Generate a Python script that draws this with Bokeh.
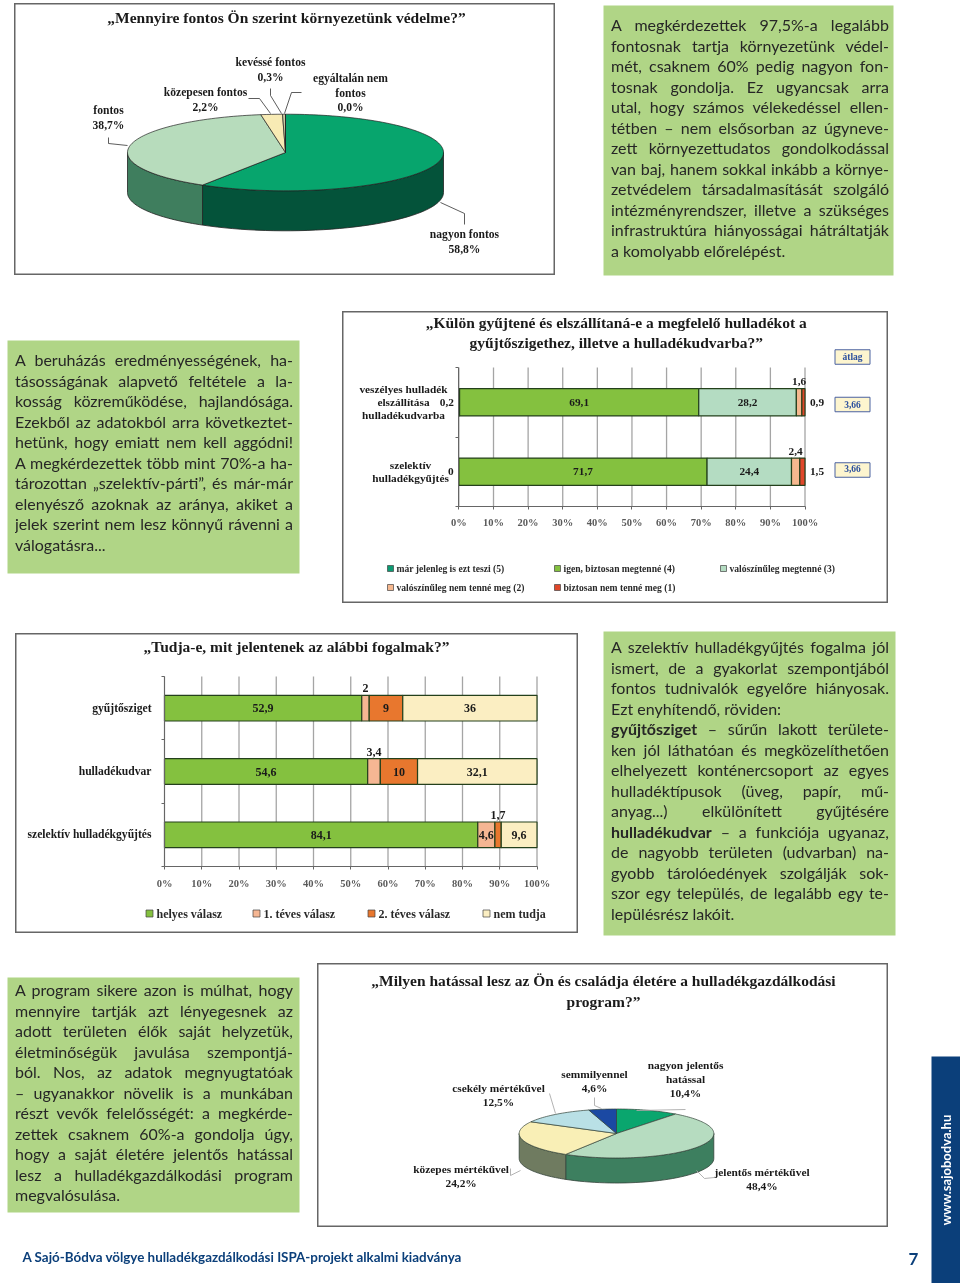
import math
from bokeh.plotting import figure
from bokeh.layouts import column
from bokeh.models import Range1d, Div, FixedTicker, ColumnDataSource
from bokeh.core.properties import value
from bokeh.embed import file_html
from bokeh.resources import INLINE

# ---------- DATA ----------
pie1_title = "„Mennyire fontos Ön szerint környezetünk védelme?”"
pie1_labels = ["nagyon fontos", "fontos", "közepesen fontos", "kevéssé fontos", "egyáltalán nem\nfontos"]
pie1_values = [58.8, 38.7, 2.2, 0.3, 0.0]
pie1_top = ["#07a56d", "#b7dcbc", "#f8ebb4", "#c9c9a0", "#888888"]
pie1_side = ["#04533a", "#3f7e5e", "#8a8050", "#666650", "#444444"]

bar1_title = ["„Külön gyűjtené és elszállítaná-e a megfelelő hulladékot a", "gyűjtőszigethez, illetve a hulladékudvarba?”"]
bar1_cats = ["veszélyes hulladék\nelszállítása\nhulladékudvarba", "szelektív\nhulladékgyűjtés"]
bar1_series = ["már jelenleg is ezt teszi (5)", "igen, biztosan megtenné (4)", "valószínűleg megtenné (3)",
               "valószínűleg nem tenné meg (2)", "biztosan nem tenné meg (1)"]
bar1_s5 = [0.2, 0]
bar1_s4 = [69.1, 71.7]
bar1_s3 = [28.2, 24.4]
bar1_s2 = [1.6, 2.4]
bar1_s1 = [0.9, 1.5]
bar1_colors = ["#0c9a72", "#84c13f", "#b4dcc2", "#f6b88f", "#e0472a"]
bar1_avg_head = "átlag"
bar1_avg = [3.66, 3.66]

bar2_title = "„Tudja-e, mit jelentenek az alábbi fogalmak?”"
bar2_cats = ["gyűjtősziget", "hulladékudvar", "szelektív hulladékgyűjtés"]
bar2_series = ["helyes válasz", "1. téves válasz", "2. téves válasz", "nem tudja"]
bar2_s1 = [52.9, 54.6, 84.1]
bar2_s2 = [2, 3.4, 4.6]
bar2_s3 = [9, 10, 1.7]
bar2_s4 = [36, 32.1, 9.6]
bar2_colors = ["#84c13f", "#f5b693", "#e8772e", "#fbeec2"]

pie2_title = ["„Milyen hatással lesz az Ön és családja életére a hulladékgazdálkodási", "program?”"]
pie2_labels = ["nagyon jelentős\nhatással", "jelentős mértékűvel", "közepes mértékűvel", "csekély mértékűvel", "semmilyennel"]
pie2_values = [10.4, 48.4, 24.2, 12.5, 4.6]
pie2_top = ["#0aa66e", "#b6dcc0", "#f9efb6", "#b9e0e6", "#1b49a3"]
pie2_side = ["#06683f", "#3d7f5f", "#6f7b60", "#6f8f96", "#10306c"]

panel1 = ["A megkérdezettek 97,5%-a legalább", "fontosnak tartja környezetünk védel-", "mét, csaknem 60% pedig nagyon fon-",
          "tosnak gondolja. Ez ugyancsak arra", "utal, hogy számos vélekedéssel ellen-", "tétben – nem elsősorban az úgyneve-",
          "zett környezettudatos gondolkodással", "van baj, hanem sokkal inkább a környe-", "zetvédelem társadalmasítását szolgáló",
          "intézményrendszer, illetve a szükséges", "infrastruktúra hiányosságai hátráltatják", "a komolyabb előrelépést."]
panel2 = ["A beruházás eredményességének, ha-", "tásosságának alapvető feltétele a la-", "kosság közreműködése, hajlandósága.",
          "Ezekből az adatokból arra következtet-", "hetünk, hogy emiatt nem kell aggódni!", "A megkérdezettek több mint 70%-a ha-",
          "tározottan „szelektív-párti”, és már-már", "elenyésző azoknak az aránya, akiket a", "jelek szerint nem lesz könnyű rávenni a",
          "válogatásra..."]
panel3 = ["A szelektív hulladékgyűjtés fogalma jól", "ismert, de a gyakorlat szempontjából", "fontos tudnivalók egyelőre hiányosak.",
          "Ezt enyhítendő, röviden:", "<b>gyűjtősziget</b> – sűrűn lakott területe-", "ken jól láthatóan és megközelíthetően",
          "elhelyezett konténercsoport az egyes", "hulladéktípusok (üveg, papír, mű-", "anyag...) elkülönített gyűjtésére",
          "<b>hulladékudvar</b> – a funkciója ugyanaz,", "de nagyobb területen (udvarban) na-", "gyobb tárolóedények szolgálják sok-",
          "szor egy település, de legalább egy te-", "lepülésrész lakóit."]
panel4 = ["A program sikere azon is múlhat, hogy", "mennyire tartják azt lényegesnek az", "adott területen élők saját helyzetük,",
          "életminőségük javulása szempontjá-", "ból. Nos, az adatok megnyugtatóak", "– ugyanakkor növelik is a munkában",
          "részt vevők felelősségét: a megkérde-", "zettek csaknem 60%-a gondolja úgy,", "hogy a saját életére jelentős hatással",
          "lesz a hulladékgazdálkodási program", "megvalósulása."]
left_lines = {"a komolyabb előrelépést.", "válogatásra...", "Ezt enyhítendő, röviden:", "lepülésrész lakóit.", "megvalósulása."}

footer = "A Sajó-Bódva völgye hulladékgazdálkodási ISPA-projekt alkalmi kiadványa"
page_no = "7"
website = "www.sajobodva.hu"

# ---------- STYLE ----------
SERIF = "Liberation Serif"
PANEL = "#b0d586"
NAVY = "#0b3f7a"
TITLE_SIZE = "15.5px"
PCT_TICKS = list(range(0, 101, 10))


def num(v):
    return f"{v:g}".replace(".", ",")


def fixed(x, y):
    return {"position": "fixed", "left": f"{x}px", "top": f"{y}px", "margin": "0"}


def box_fig(x0, y0, x1, y1, xr, yr, outline="#666666"):
    p = figure(width=x1 - x0, height=y1 - y0, x_range=xr, y_range=yr, toolbar_location=None,
               output_backend="svg", min_border=0, margin=0, styles=fixed(x0, y0),
               background_fill_color="white", border_fill_color="white",
               outline_line_color=outline, outline_line_width=2)
    p.grid.visible = False
    return p


def serif_text(p, xs, ys, texts, size="10.5px", color="#1a1a1a", align="center"):
    p.text(x=xs, y=ys, text=texts, text_font=value(SERIF), text_font_style="bold", text_font_size=size,
           text_color=color, text_align=align, text_baseline="middle")


def draw_pie(p, values, tops, sides, cx, cy, rx, ry, depth, edge):
    total = sum(values)
    a0 = 0.0
    for v, side in zip(values, sides):
        a1 = a0 + 2 * math.pi * v / total
        lo, hi = max(a0, math.pi / 2), min(a1, 3 * math.pi / 2)
        if v > 0 and hi > lo:
            steps = [lo + (hi - lo) * i / 40 for i in range(41)]
            xs = [cx + rx * math.sin(t) for t in steps]
            ys = [cy - ry * math.cos(t) for t in steps]
            p.patch(xs + xs[::-1], ys + [y + depth for y in ys[::-1]], fill_color=side,
                    line_color=edge, line_width=0.8)
        a0 = a1
    a0 = 0.0
    for v, top in zip(values, tops):
        a1 = a0 + 2 * math.pi * v / total
        n = max(2, int((a1 - a0) / 0.03))
        steps = [a0 + (a1 - a0) * i / n for i in range(n + 1)]
        xs = [cx] + [cx + rx * math.sin(t) for t in steps]
        ys = [cy] + [cy - ry * math.cos(t) for t in steps]
        p.patch(xs, ys, fill_color=top, line_color=edge, line_width=0.7)
        a0 = a1


def draw_bars(p, cats, series, colors, bar_h, inside_size, small_above, outside):
    """100% stacked bars; every label comes from the series values."""
    n = len(cats)
    rows = [n - 0.5 - i for i in range(n)]
    totals = [sum(s[i] for s in series) for i in range(n)]
    left = [0.0] * n
    lx, ly, lt, lxo, lyo = [], [], [], [], []
    for k, (s, c) in enumerate(zip(series, colors)):
        share = [100 * s[i] / totals[i] for i in range(n)]
        right = [left[i] + share[i] for i in range(n)]
        keep = [i for i in range(n) if s[i] > 0]
        p.hbar(y=[rows[i] for i in keep], left=[left[i] for i in keep], right=[right[i] for i in keep],
               height=bar_h, fill_color=c, line_color="#24401c", line_width=1.2)
        for i in range(n):
            mid = (left[i] + right[i]) / 2
            side = outside.get(k)
            if side == "left":
                lx.append(0); lxo.append(-12 if s[i] else -8); ly.append(rows[i]); lyo.append(0)
            elif side == "right":
                lx.append(100); lxo.append(12); ly.append(rows[i]); lyo.append(0)
            elif s[i] < small_above:
                lx.append(mid); lxo.append(0); ly.append(rows[i] + bar_h / 2); lyo.append(-7)
            else:
                lx.append(mid); lxo.append(0); ly.append(rows[i]); lyo.append(0)
            lt.append(num(s[i]))
        left = right
    p.text(x="x", y="y", text="t", x_offset="xo", y_offset="yo",
           source=ColumnDataSource(dict(x=lx, y=ly, t=lt, xo=lxo, yo=lyo)),
           text_font=value(SERIF), text_font_style="bold", text_font_size=inside_size,
           text_color="#1a1a1a", text_align="center", text_baseline="middle")


def setup_axes(p, n, cats, standoff, xstandoff, label_size):
    p.segment(x0=PCT_TICKS, x1=PCT_TICKS, y0=[0] * 11, y1=[n] * 11, line_color="#a5a5a5", line_width=1.3, level="underlay")
    ax = p.xaxis[0]
    ax.fixed_location = 0
    ax.bounds = (0, 100)
    ax.ticker = FixedTicker(ticks=PCT_TICKS)
    ax.major_label_overrides = {t: f"{t}%" for t in PCT_TICKS}
    ax.major_label_text_font = SERIF
    ax.major_label_text_font_style = "bold"
    ax.major_label_text_font_size = "10.5px"
    ax.major_label_text_color = "#5a5a5a"
    ax.major_label_standoff = xstandoff
    ax.major_tick_out = 3
    ax.major_tick_in = 0
    ax.minor_tick_out = 0
    ax.axis_line_color = "#666666"
    ax.major_tick_line_color = "#666666"
    ay = p.yaxis[0]
    ay.fixed_location = 0
    ay.bounds = (0, n)
    ay.ticker = FixedTicker(ticks=[n - 0.5 - i for i in range(n)], minor_ticks=list(range(n + 1)))
    ay.major_label_overrides = {n - 0.5 - i: cats[i] for i in range(n)}
    ay.major_label_text_font = SERIF
    ay.major_label_text_font_style = "bold"
    ay.major_label_text_font_size = label_size
    ay.major_label_text_color = "#1a1a1a"
    ay.major_label_standoff = standoff
    ay.major_tick_out = 0
    ay.major_tick_in = 0
    ay.minor_tick_out = 3
    ay.minor_tick_in = 0
    ay.axis_line_color = "#666666"
    ay.minor_tick_line_color = "#666666"


children = []

# ---------- PAGE (panels, band, footer) ----------
page = figure(width=960, height=1283, x_range=Range1d(0, 960), y_range=Range1d(1283, 0), toolbar_location=None,
              output_backend="svg", min_border=0, margin=0, styles=fixed(0, 0), outline_line_color=None,
              border_fill_color="white", background_fill_color="white")
page.axis.visible = False
page.grid.visible = False
pan_rects = [(603, 5, 893, 275), (7, 340, 299, 573), (603, 631, 895, 935), (7, 977, 299, 1212)]
page.quad(left=[r[0] for r in pan_rects], right=[r[2] for r in pan_rects], top=[r[1] for r in pan_rects],
          bottom=[r[3] for r in pan_rects], fill_color=PANEL, line_color=None)
page.quad(left=[931], right=[960], top=[1056], bottom=[1283], fill_color=NAVY, line_color=None)
page.text(x=[945], y=[1169.5], text=[website], angle=[math.pi / 2], text_font=value("Lato"), text_font_style="bold",
          text_font_size="13px", text_color="white", text_align="center", text_baseline="middle")
page.text(x=[22], y=[1256], text=[footer], text_font=value("Lato"), text_font_style="bold",
          text_font_size="13.4px", text_color=NAVY, text_align="left", text_baseline="middle")
page.text(x=[913], y=[1258], text=[page_no], text_font=value("Lato"), text_font_style="bold",
          text_font_size="17px", text_color=NAVY, text_align="center", text_baseline="middle")
children.append(page)

# ---------- PANEL TEXTS ----------
for lines, (x, y, w) in zip([panel1, panel2, panel3, panel4],
                            [(611, 15, 278), (15, 350, 278), (611, 637, 278), (15, 980, 278)]):
    html = f'<div style="width:{w}px">'
    for ln in lines:
        last = "left" if ln in left_lines else "justify"
        html += (f'<div style="height:20.5px;line-height:20.5px;overflow:hidden;text-align:justify;'
                 f'text-align-last:{last}">{ln}</div>')
    html += "</div>"
    children.append(Div(text=html, width=w, height=int(len(lines) * 20.5) + 2, margin=0, styles={
        **fixed(x, y), "width": f"{w}px", "font-family": "Lato", "font-size": "16px", "color": "#262626"}))

# ---------- PIE 1 ----------
fx0, fy0, fx1, fy1 = 14, 3, 555, 275
p1 = box_fig(fx0, fy0, fx1, fy1, Range1d(fx0, fx1), Range1d(fy1, fy0))
p1.axis.visible = False
draw_pie(p1, pie1_values, pie1_top, pie1_side, 285, 152, 158, 38.3, 40, "#222222")
serif_text(p1, [286], [17], [pie1_title], size=TITLE_SIZE)
pos1 = [(464, 234), (108, 110), (205, 92), (270, 62), (350, 78)]
for lab, v, (x, y) in zip(pie1_labels, pie1_values, pos1):
    parts = lab.split("\n") + [f"{v:.1f}".replace(".", ",") + "%"]
    serif_text(p1, [x] * len(parts), [y + 14.5 * i for i in range(len(parts))], parts, size="11.6px")
lead1 = [([464, 464, 440], [224, 213, 202]), ([108, 108, 127], [137, 143, 145]), ([248, 259, 270], [98, 98, 113]),
         ([270, 270, 281], [88, 95, 113]), ([301, 291, 284], [92, 92, 113])]
p1.multi_line([l[0] for l in lead1], [l[1] for l in lead1], line_color="#333333", line_width=0.8)
children.append(p1)

# ---------- BAR 1 ----------
fx0, fy0, fx1, fy1 = 342, 311, 888, 603
ZX, PX = 458.4, 3.461
BY, RH = 506, 69.5
X = lambda px: (px - ZX) / PX
Y = lambda py: (BY - py) / RH
p2 = box_fig(fx0, fy0, fx1, fy1, Range1d(X(fx0), X(fx1)), Range1d(Y(fy1), Y(fy0)))
setup_axes(p2, 2, [" ", " "], 12, 7, "11px")
draw_bars(p2, bar1_cats, [bar1_s5, bar1_s4, bar1_s3, bar1_s2, bar1_s1], bar1_colors, 0.394, "11.3px", 4,
          {0: "left", 4: "right"})
# multi-line category labels, centred as in the original
for i, (cat, cx_px) in enumerate(zip(bar1_cats, [403, 410])):
    lines = cat.split("\n")
    row = 1.5 - i
    serif_text(p2, [X(cx_px)] * len(lines), [row + (len(lines) - 1 - 2 * j) * 6.6 / RH for j in range(len(lines))], lines, size="11.3px")
serif_text(p2, [X(615.7), X(615.7)], [Y(322), Y(342)], bar1_title, size=TITLE_SIZE)
# average boxes
p2.rect(x=[X(852)] * 3, y=[Y(356.5), Y(404), Y(469.5)], width=35 / PX, height=14.5 / RH, fill_color="#fdf5cf",
        line_color="#4b62a0", line_width=1)
serif_text(p2, [X(852)] * 3, [Y(356), Y(403.5), Y(468)], [bar1_avg_head] + [num(a) for a in bar1_avg], size="9.5px", color="#2b4f9e")
# legend
leg_x = [390, 557, 723, 390, 557]
leg_y = [568, 568, 568, 587, 587]
p2.rect(x=[X(v) for v in leg_x], y=[Y(v) for v in leg_y], width=6 / PX, height=6 / RH, fill_color=bar1_colors,
        line_color="#444444", line_width=0.7)
p2.text(x=[X(v + 6) for v in leg_x], y=[Y(v) for v in leg_y], text=bar1_series, text_font=value(SERIF),
        text_font_style="bold", text_font_size="9.6px", text_color="#2a2a2a", text_baseline="middle")
children.append(p2)

# ---------- BAR 2 ----------
fx0, fy0, fx1, fy1 = 15, 633, 578, 933
ZX3, PX3 = 164, 3.725
BY3, RH3 = 866, 63.33
X3 = lambda px: (px - ZX3) / PX3
Y3 = lambda py: (BY3 - py) / RH3
p3 = box_fig(fx0, fy0, fx1, fy1, Range1d(X3(fx0), X3(fx1)), Range1d(Y3(fy1), Y3(fy0)))
setup_axes(p3, 3, bar2_cats, 10, 8, "11.6px")
draw_bars(p3, bar2_cats, [bar2_s1, bar2_s2, bar2_s3, bar2_s4], bar2_colors, 0.405, "12px", 4, {})
serif_text(p3, [X3(296)], [Y3(646)], [bar2_title], size=TITLE_SIZE)
leg3 = [149, 256, 371, 486]
p3.rect(x=[X3(v) for v in leg3], y=[Y3(913)] * 4, width=7 / PX3, height=7 / RH3, fill_color=bar2_colors,
        line_color="#444444", line_width=0.7)
p3.text(x=[X3(v + 7) for v in leg3], y=[Y3(913)] * 4, text=bar2_series, text_font=value(SERIF),
        text_font_style="bold", text_font_size="12px", text_color="#2a2a2a", text_baseline="middle")
children.append(p3)

# ---------- PIE 2 ----------
fx0, fy0, fx1, fy1 = 317, 963, 888, 1227
p4 = box_fig(fx0, fy0, fx1, fy1, Range1d(fx0, fx1), Range1d(fy1, fy0))
p4.axis.visible = False
draw_pie(p4, pie2_values, pie2_top, pie2_side, 616, 1133, 97.3, 24.5, 25, "#33433a")
serif_text(p4, [603], [980], [pie2_title[0]], size=TITLE_SIZE)
serif_text(p4, [603], [1001], [pie2_title[1]], size=TITLE_SIZE)
pos4 = [(685, 1064), (761.5, 1171.7), (460.6, 1168), (498, 1087), (594, 1073)]
for lab, v, (x, y) in zip(pie2_labels, pie2_values, pos4):
    parts = lab.split("\n") + [num(v) + "%"]
    serif_text(p4, [x] * len(parts), [y + 14 * i for i in range(len(parts))], parts, size="11.4px")
lead4 = [([685, 636], [1109, 1110]), ([714, 704, 696], [1177, 1178, 1170]), ([510, 510, 520], [1168, 1175, 1170]),
         ([549, 555], [1093, 1113]), ([594, 594, 601], [1097, 1105, 1108])]
p4.multi_line([l[0] for l in lead4], [l[1] for l in lead4], line_color="#aaaaaa", line_width=0.9)
children.append(p4)

root = column(*children, width=944, height=1267, margin=0)
open("out.html", "w").write(file_html(root, INLINE))
